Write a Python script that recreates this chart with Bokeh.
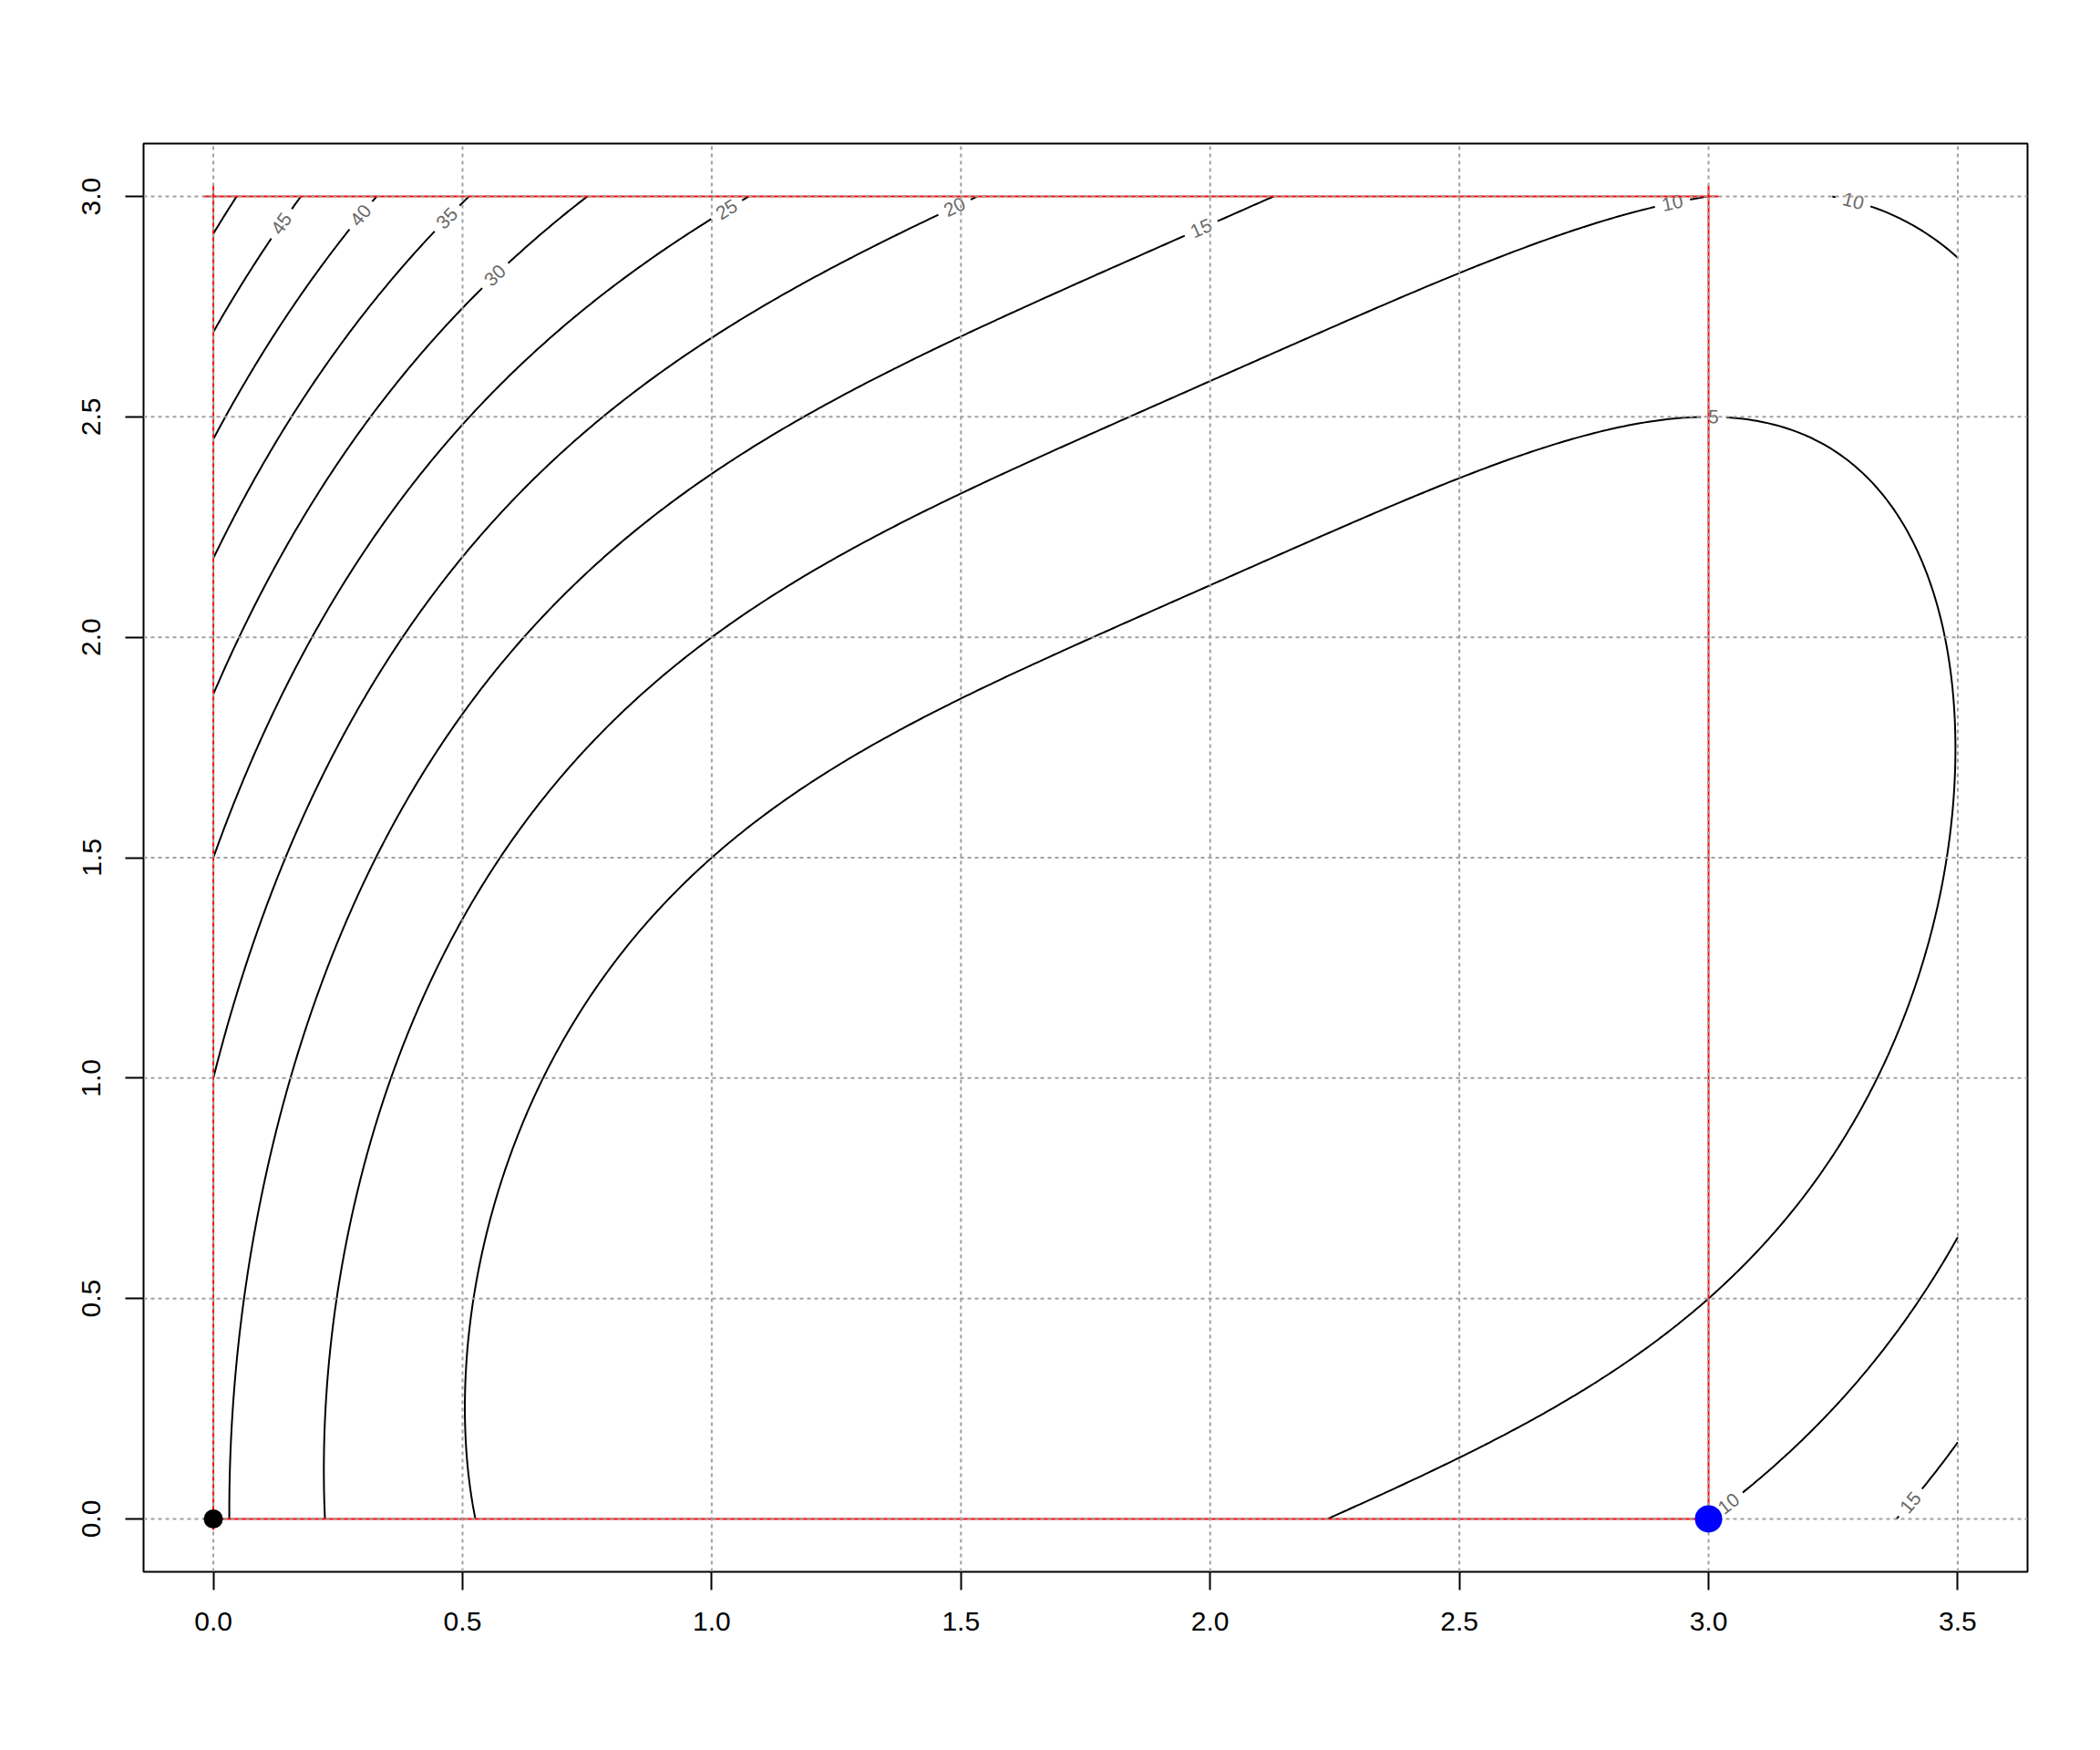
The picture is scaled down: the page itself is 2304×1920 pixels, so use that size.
import numpy as np
from bokeh.plotting import figure
from bokeh.models import Range1d, FixedTicker, PrintfTickFormatter
from bokeh.core.properties import value
from bokeh.embed import file_html
from bokeh.resources import INLINE

# ---- chart data -------------------------------------------------------
x_ticks = [0.0, 0.5, 1.0, 1.5, 2.0, 2.5, 3.0, 3.5]
x_tick_labels = ["0.0", "0.5", "1.0", "1.5", "2.0", "2.5", "3.0", "3.5"]
y_ticks = [0.0, 0.5, 1.0, 1.5, 2.0, 2.5, 3.0]
y_tick_labels = ["0.0", "0.5", "1.0", "1.5", "2.0", "2.5", "3.0"]

# contour levels drawn (R pretty levels)
contour_levels = [5, 10, 15, 20, 25, 30, 35, 40, 45, 50]

# evaluation grid of the contour plot
grid_x_range = [0.0, 3.5]
grid_y_range = [0.0, 3.0]

# box constraint drawn in red
box_lower = [0.0, 0.0]
box_upper = [3.0, 3.0]

# start point (black) and end point (blue)
start_x = [0.0]
start_y = [0.0]
end_x = [3.0]
end_y = [0.0]

# contour labels (level and approximate position)
label_levels = [45, 40, 35, 30, 25, 20, 15, 10, 5, 10, 10, 15]
label_x = [0.137, 0.296, 0.469, 0.565, 1.029, 1.487, 1.981, 2.927, 3.010, 3.290, 3.040, 3.404]
label_y = [2.938, 2.957, 2.950, 2.821, 2.972, 2.976, 2.930, 2.988, 2.498, 2.988, 0.035, 0.038]


def objective(x, y):
    # the plotted function: (x - 2)^4 + (x - 2y)^2
    return (x - 2.0) ** 4 + (x - 2.0 * y) ** 2


def gradient(x, y):
    fx = 4.0 * (x - 2.0) ** 3 + 2.0 * (x - 2.0 * y)
    fy = -4.0 * (x - 2.0 * y)
    return fx, fy


gx = np.linspace(grid_x_range[0], grid_x_range[1], 351)
gy = np.linspace(grid_y_range[0], grid_y_range[1], 301)
GX, GY = np.meshgrid(gx, gy)
GZ = objective(GX, GY)

# ---- layout -----------------------------------------------------------
FRAME_W, FRAME_H = 2067, 1567
XR = (-0.14, 3.64)
YR = (-0.12, 3.12)
SX = FRAME_W / (XR[1] - XR[0])
SY = FRAME_H / (YR[1] - YR[0])

p = figure(
    frame_width=FRAME_W, frame_height=FRAME_H,
    x_range=Range1d(*XR), y_range=Range1d(*YR),
    output_backend="svg", toolbar_location=None,
    min_border_left=157, min_border_right=64,
    min_border_top=157, min_border_bottom=180,
)
p.background_fill_color = "white"
p.border_fill_color = "white"
p.outline_line_color = "black"
p.outline_line_width = 2
p.outline_line_alpha = 1.0
p.grid.visible = False

for ax, ticks, labels in ((p.xaxis, x_ticks, x_tick_labels), (p.yaxis, y_ticks, y_tick_labels)):
    ax.ticker = FixedTicker(ticks=ticks)
    ax.formatter = PrintfTickFormatter(format="%.1f")
    ax.major_label_overrides = {t: l for t, l in zip(ticks, labels)}
    ax.axis_line_color = None
    ax.major_tick_out = 20
    ax.major_tick_in = 0
    ax.major_tick_line_width = 2
    ax.major_tick_line_color = "black"
    ax.minor_tick_line_color = None
    ax.major_label_text_font = "Liberation Sans"
    ax.major_label_text_font_size = "30px"
    ax.major_label_text_color = "black"
p.xaxis.major_label_standoff = 24
p.yaxis.major_label_standoff = 27
p.yaxis.major_label_orientation = "vertical"

# ---- contour lines ----------------------------------------------------
p.contour(gx, gy, GZ, levels=contour_levels, line_color="black", line_width=2)

# ---- contour labels (snapped onto their level line) -----------------
lx, ly, ang, txt = [], [], [], []
for L, x0, y0 in zip(label_levels, label_x, label_y):
    X, Y = x0 * SX, y0 * SY
    for _ in range(20):
        x, y = X / SX, Y / SY
        fx, fy = gradient(x, y)
        gXs, gYs = fx / SX, fy / SY
        d = (objective(x, y) - L) / (gXs ** 2 + gYs ** 2)
        X -= d * gXs
        Y -= d * gYs
    x, y = X / SX, Y / SY
    fx, fy = gradient(x, y)
    a = np.arctan2(fx / SX, -fy / SY)
    if a > np.pi / 2:
        a -= np.pi
    if a < -np.pi / 2:
        a += np.pi
    lx.append(x)
    ly.append(y)
    ang.append(float(a))
    txt.append(str(L))

p.text(
    x=lx, y=ly, text=txt, angle=ang,
    text_font=value("Liberation Sans"), text_font_size="21px",
    text_color="#6a6a6a", text_align="center", text_baseline="middle",
    background_fill_color="white", padding=(8, 1),
)

# ---- box constraint (red) ---------------------------------------------
ox, oy = 0.02, 0.025
p.segment(
    x0=[box_lower[0] - ox, box_lower[0] - ox, box_lower[0], box_upper[0]],
    y0=[box_lower[1], box_upper[1], box_lower[1] - oy, box_lower[1] - oy],
    x1=[box_upper[0] + ox, box_upper[0] + ox, box_lower[0], box_upper[0]],
    y1=[box_lower[1], box_upper[1], box_upper[1] + oy, box_upper[1] + oy],
    line_color="red", line_width=2,
)

# ---- dotted grid (drawn above the contours like R's grid()) ------------
p.segment(x0=x_ticks, y0=[YR[0]] * len(x_ticks), x1=x_ticks, y1=[YR[1]] * len(x_ticks),
          line_color="#a0a0a0", line_width=2, line_dash="4 4")
p.segment(x0=[XR[0]] * len(y_ticks), y0=y_ticks, x1=[XR[1]] * len(y_ticks), y1=y_ticks,
          line_color="#a0a0a0", line_width=2, line_dash="4 4")

# ---- points -------------------------------------------------------------
p.scatter(x=start_x, y=start_y, size=21, fill_color="black", line_color=None)
p.scatter(x=end_x, y=end_y, size=30, fill_color="blue", line_color=None)

open("out.html", "w").write(file_html(p, INLINE))
